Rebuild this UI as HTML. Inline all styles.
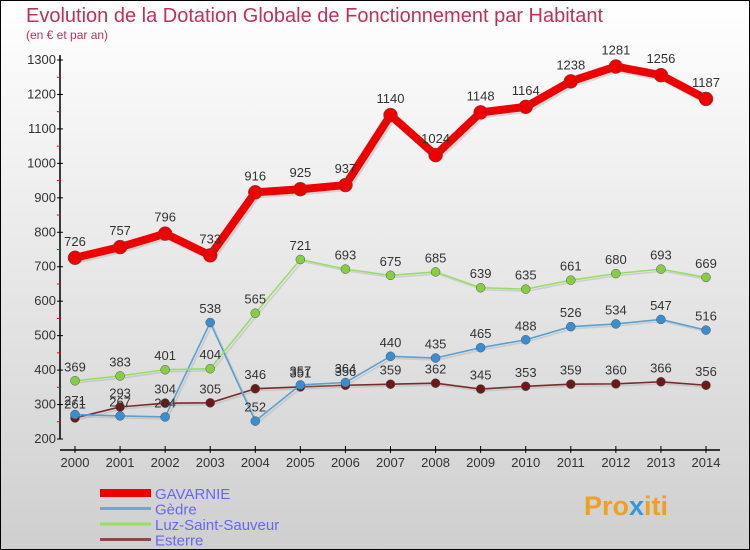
<!DOCTYPE html>
<html><head><meta charset="utf-8"><style>
body{margin:0}
#c{width:750px;height:550px;position:relative;overflow:hidden}
svg{display:block;font-family:"Liberation Sans",sans-serif}
</style></head><body>
<div id="c">
<svg id="s" width="750" height="550" xmlns="http://www.w3.org/2000/svg">
<defs><linearGradient id="bg" x1="0" y1="0" x2="0" y2="1"><stop offset="0" stop-color="#ffffff"/><stop offset="1" stop-color="#cfcfcf"/></linearGradient></defs>
<rect x="0.5" y="0.5" width="749" height="549" fill="url(#bg)" stroke="#000"/>
<text x="26" y="22" font-size="20" fill="#c0305a">Evolution de la Dotation Globale de Fonctionnement par Habitant</text>
<text x="26" y="39" font-size="12" fill="#c0305a">(en € et par an)</text>
<g id="axes"></g><g id="series"></g><g id="legend"></g>
<text x="584" y="515" font-size="27" font-weight="bold" fill="#f0a020">Pro<tspan fill="#3399dd">x</tspan>iti</text>
</svg></div>
<script>
const years=[2000,2001,2002,2003,2004,2005,2006,2007,2008,2009,2010,2011,2012,2013,2014];
const yTicks=[200,300,400,500,600,700,800,900,1000,1100,1200,1300];
const gavarnie=[726,757,796,733,916,925,937,1140,1024,1148,1164,1238,1281,1256,1187];
const gedre=[271,267,264,538,252,357,364,440,435,465,488,526,534,547,516];
const luz=[369,383,401,404,565,721,693,675,685,639,635,661,680,693,669];
const esterre=[261,293,304,305,346,351,356,359,362,345,353,359,360,366,356];
const NS="http://www.w3.org/2000/svg";
const X=i=>75+i*(706-75)/14;
const Y=v=>439-(v-200)*(439-60)/1100;
function mk(t,a,p){const e=document.createElementNS(NS,t);for(const k in a)e.setAttribute(k,a[k]);p.appendChild(e);return e;}
const ax=document.getElementById('axes');
let l=mk('line',{x1:60,y1:55,x2:60,y2:439,stroke:'#000','stroke-width':1.5},ax);


l=mk('line',{x1:60,y1:450,x2:720,y2:450,stroke:'#000','stroke-width':1.5},ax);


yTicks.forEach((v,i)=>{
  mk('line',{x1:57,y1:Y(v),x2:63,y2:Y(v),stroke:'#000'},ax);
  if(i<yTicks.length-1)mk('line',{x1:57,y1:Y(v+50),x2:61,y2:Y(v+50),stroke:'#f00'},ax);
  const t=mk('text',{x:56,y:Y(v)+4,'font-size':13,fill:'#333','text-anchor':'end'},ax);
  t.textContent=v;
  
  
});
years.forEach((y,i)=>{
  mk('line',{x1:X(i),y1:446,x2:X(i),y2:453,stroke:'#000'},ax);
  const t=mk('text',{x:X(i),y:467,'font-size':13,fill:'#333','text-anchor':'middle'},ax);
  t.textContent=y;
  
  
});
const sg=document.getElementById('series');
function series(data,color,dot,w,r,name){
  const g=mk('g',{},sg);
  
  
  const pts=data.map((v,i)=>X(i)+','+Y(v)).join(' ');
  mk('polyline',{points:pts,fill:'none',stroke:'#999','stroke-width':w,'stroke-opacity':0.3,transform:'translate(2,2)'},g);
  const p=mk('polyline',{points:pts,fill:'none',stroke:color,'stroke-width':w,'stroke-linejoin':'round'},g);
  
  
  data.forEach((v,i)=>{
    const c=mk('circle',{cx:X(i),cy:Y(v),r:r,fill:dot,stroke:'#555','stroke-width':0.5},g);
    
    
    const t=mk('text',{x:X(i),y:Y(v)-r-5,'font-size':13,fill:'#333','text-anchor':'middle'},g);
    t.textContent=v;
    
    
  });
}
series(esterre,'#7a2a2a','#6b1a1a',1.6,4.5,'esterre');
series(gedre,'#5aa0d0','#3a8ed0',1.6,4.5,'gedre');
series(luz,'#99dd66','#88cc44',1.6,4.5,'luz-saint-sauveur');
series(gavarnie,'#ee0000','#ee0000',8,7,'gavarnie');
const lg=document.getElementById('legend');
const items=[['GAVARNIE','#ee0000',8],['Gèdre','#6aa8d8',3],['Luz-Saint-Sauveur','#99dd66',3],['Esterre','#8a4a4a',3]];
items.forEach((it,i)=>{
  const y=493+i*15.5;
  const g=mk('g',{},lg);
  
  
  mk('line',{x1:100,y1:y,x2:151,y2:y,stroke:it[1],'stroke-width':it[2]},g);
  const t=mk('text',{x:155,y:y+6,'font-size':15,fill:'#6666ff'},g);
  t.textContent=it[0];
});
</script>
</body></html>
